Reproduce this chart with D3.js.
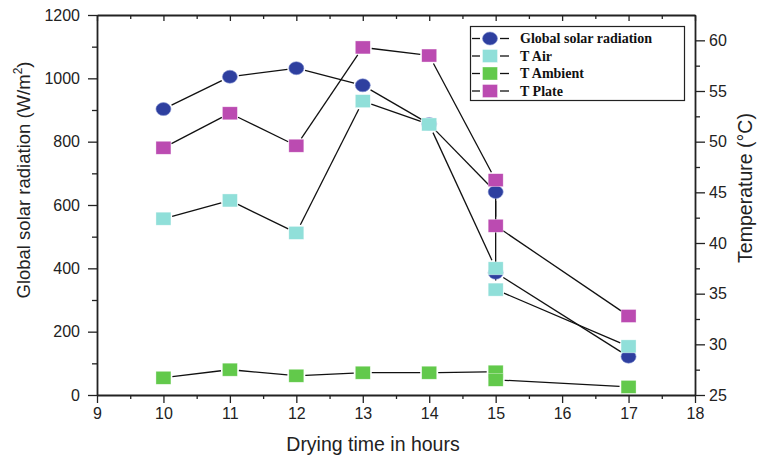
<!DOCTYPE html>
<html><head><meta charset="utf-8">
<script src="https://cdn.jsdelivr.net/npm/d3@7"></script>
<style>html,body{margin:0;padding:0;background:#fff;}svg{display:block;}</style>
</head><body>
<svg id="chart" width="757" height="458"></svg>
<script>
const hours    = [10, 11, 12, 13, 14, 15, 15, 17];
const globalRad = [903, 1005, 1032, 978, 856, 641, 386, 121];
const tAir     = [42.4, 44.2, 41.0, 54.0, 51.7, 37.5, 35.4, 29.8];
const tAmbient = [26.7, 27.5, 26.9, 27.2, 27.2, 27.3, 26.5, 25.8];
const tPlate   = [49.4, 52.8, 49.6, 59.3, 58.5, 46.2, 41.7, 32.8];
const xTicks = [9, 10, 11, 12, 13, 14, 15, 16, 17, 18];
const leftTicks = [0, 200, 400, 600, 800, 1000, 1200];
const rightTicks = [25, 30, 35, 40, 45, 50, 55, 60];
const seriesNames = ["Global solar radiation", "T Air", "T Ambient", "T Plate"];

const svg = d3.select("#chart");
const L = 97, R = 695, T = 15, B = 395;
const x = d3.scaleLinear().domain([9, 18]).range([L, R]);
const yL = d3.scaleLinear().domain([0, 1200]).range([B, T]);
const yR = d3.scaleLinear().domain([25, 62.5]).range([B, T]);
const font = "'Liberation Sans', Arial, sans-serif";
const axisColor = "#222";

const series = [
  {name: seriesNames[0], vals: globalRad, y: yL, color: "#2E3F9F", shape: "circle"},
  {name: seriesNames[1], vals: tAir, y: yR, color: "#90DFD9", shape: "square"},
  {name: seriesNames[2], vals: tAmbient, y: yR, color: "#62C94B", shape: "square"},
  {name: seriesNames[3], vals: tPlate, y: yR, color: "#BB4BB1", shape: "square"}
];

// lines with gaps near markers
const gap = 9;
const lineG = svg.append("g");
series.forEach(s => {
  const pts = hours.map((h, i) => [x(h), s.y(s.vals[i])]);
  for (let i = 0; i < pts.length - 1; i++) {
    const [x1, y1] = pts[i], [x2, y2] = pts[i + 1];
    const dx = x2 - x1, dy = y2 - y1, len = Math.hypot(dx, dy);
    if (len <= 2 * gap) continue;
    const ux = dx / len, uy = dy / len;
    lineG.append("line")
      .attr("x1", x1 + ux * gap).attr("y1", y1 + uy * gap)
      .attr("x2", x2 - ux * gap).attr("y2", y2 - uy * gap)
      .attr("stroke", "#111").attr("stroke-width", 1.3);
  }
});

function drawMarker(g, shape, cx, cy, color) {
  if (shape === "circle") {
    g.append("ellipse").attr("cx", cx).attr("cy", cy).attr("rx", 7.5).attr("ry", 6.5)
      .attr("fill", color).attr("stroke", "#7f8fd0").attr("stroke-width", 0.6);
  } else {
    g.append("rect").attr("x", cx - 7.5).attr("y", cy - 6.5).attr("width", 15).attr("height", 13)
      .attr("fill", color).attr("stroke", "#fff").attr("stroke-opacity", 0.6).attr("stroke-width", 0.6);
  }
}

const markG = svg.append("g");
series.forEach(s => {
  hours.forEach((h, i) => drawMarker(markG, s.shape, x(h), s.y(s.vals[i]), s.color));
});

// axes
function styleAxis(g) {
  g.selectAll("path").attr("stroke", axisColor).attr("stroke-width", 1.8);
  g.selectAll("line").attr("stroke", axisColor).attr("stroke-width", 1.3);
  g.selectAll("text").attr("font-family", font).attr("font-size", 16).attr("fill", "#222");
}
const minorX = d3.range(9.5, 18, 1);
const minorL = d3.range(100, 1200, 200);
const minorR = d3.range(27.5, 62.5, 5);
function minor(g) { g.select("path").remove(); g.selectAll("line").attr("stroke", axisColor).attr("stroke-width", 1.3); }

// bottom
const gB = svg.append("g").attr("transform", `translate(0,${B})`)
  .call(d3.axisBottom(x).tickValues(xTicks).tickFormat(d3.format("d")).tickSizeInner(8).tickSizeOuter(0).tickPadding(5));
styleAxis(gB);
svg.append("g").attr("transform", `translate(0,${B})`)
  .call(d3.axisBottom(x).tickValues(minorX).tickFormat("").tickSizeInner(4).tickSizeOuter(0)).call(minor);

// top
const gT = svg.append("g").attr("transform", `translate(0,${T})`)
  .call(d3.axisBottom(x).tickValues(xTicks).tickFormat("").tickSizeInner(6).tickSizeOuter(0));
styleAxis(gT);
svg.append("g").attr("transform", `translate(0,${T})`)
  .call(d3.axisBottom(x).tickValues(minorX).tickFormat("").tickSizeInner(4).tickSizeOuter(0)).call(minor);

// left
const gL = svg.append("g").attr("transform", `translate(${L},0)`)
  .call(d3.axisLeft(yL).tickValues(leftTicks).tickFormat(d3.format("d")).tickSizeInner(9).tickSizeOuter(0).tickPadding(8));
styleAxis(gL);
svg.append("g").attr("transform", `translate(${L},0)`)
  .call(d3.axisLeft(yL).tickValues(minorL).tickFormat("").tickSizeInner(5).tickSizeOuter(0)).call(minor);

// right
const gR = svg.append("g").attr("transform", `translate(${R},0)`)
  .call(d3.axisRight(yR).tickValues(rightTicks).tickFormat(d3.format("d")).tickSizeInner(10).tickSizeOuter(0).tickPadding(4));
styleAxis(gR);
svg.append("g").attr("transform", `translate(${R},0)`)
  .call(d3.axisRight(yR).tickValues(minorR).tickFormat("").tickSizeInner(5).tickSizeOuter(0)).call(minor);

// axis titles
svg.append("text").attr("x", 373).attr("y", 451).attr("text-anchor", "middle")
  .attr("font-family", font).attr("font-size", 19.5).attr("fill", "#222").text("Drying time in hours");

const lt = svg.append("text").attr("transform", `translate(30,180) rotate(-90)`).attr("text-anchor", "middle")
  .attr("font-family", font).attr("font-size", 18.5).attr("fill", "#222");
lt.append("tspan").text("Global solar radiation (W/m");
lt.append("tspan").attr("font-size", 12).attr("dy", -8).text("2");
lt.append("tspan").attr("dy", 8).text(")");

svg.append("text").attr("transform", `translate(752,188) rotate(-90)`).attr("text-anchor", "middle")
  .attr("font-family", font).attr("font-size", 19.5).attr("fill", "#222").text("Temperature (°C)");

// legend
const lg = svg.append("g");
lg.append("rect").attr("x", 470.5).attr("y", 26.5).attr("width", 214).attr("height", 74)
  .attr("fill", "#fff").attr("stroke", "#222").attr("stroke-width", 1.2);
const rowY = [38.5, 56, 73.5, 91];
series.forEach((s, i) => {
  const cy = rowY[i];
  lg.append("line").attr("x1", 472).attr("x2", 480).attr("y1", cy).attr("y2", cy).attr("stroke", "#111").attr("stroke-width", 1.3);
  lg.append("line").attr("x1", 500).attr("x2", 509).attr("y1", cy).attr("y2", cy).attr("stroke", "#111").attr("stroke-width", 1.3);
  drawMarker(lg, s.shape, 490, cy, s.color);
  lg.append("text").attr("x", 520).attr("y", cy + 4.5).attr("font-family", "'Liberation Serif', 'Times New Roman', serif")
    .attr("font-weight", "bold").attr("font-size", 14).attr("fill", "#111").text(s.name);
});
</script>
</body></html>
